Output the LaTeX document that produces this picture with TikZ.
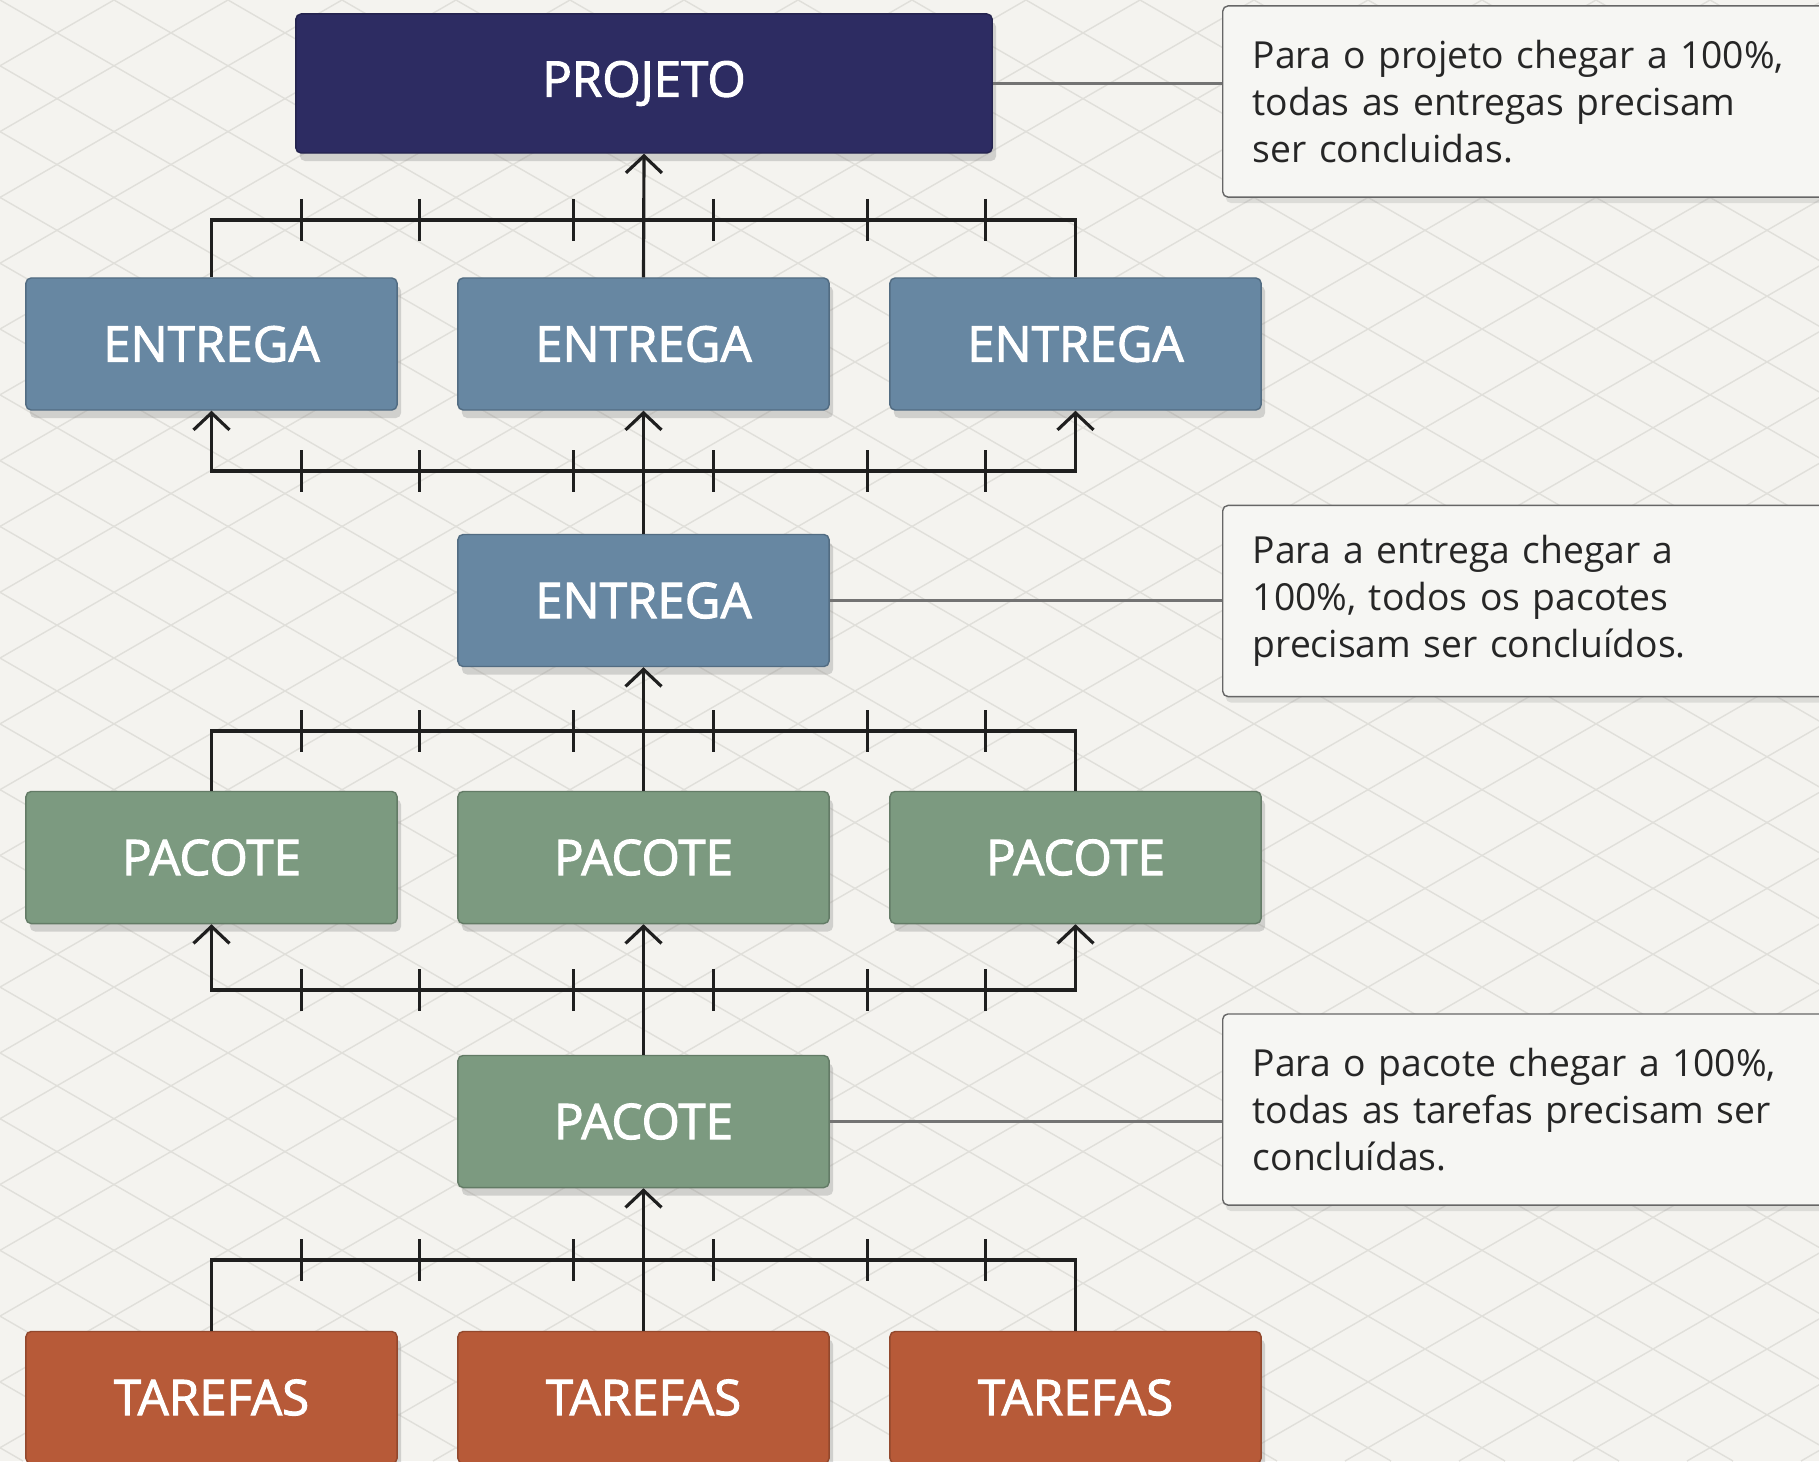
\documentclass[tikz,border=0pt]{standalone}
\usepackage{fontspec}
\setmainfont{Open Sans}
\newfontface\boxfont{Open Sans}[FakeBold=2]
\usetikzlibrary{arrows.meta,positioning,shadows}
\definecolor{paper}{HTML}{F4F3EF}
\definecolor{gridcol}{HTML}{E0DFDA}
\definecolor{projcol}{HTML}{2D2C62}
\definecolor{entcol}{HTML}{6787A2}
\definecolor{pacol}{HTML}{7C9A80}
\definecolor{tarcol}{HTML}{B75A38}
\definecolor{notecol}{HTML}{F6F6F3}
\tikzset{
  box/.style={rectangle,rounded corners=1.5pt,draw=#1!80!black,fill=#1,text=white,
    minimum width=3.71cm,minimum height=1.32cm,font=\boxfont\fontsize{14}{16}\selectfont,
    drop shadow={opacity=0.3,shadow xshift=0.04cm,shadow yshift=-0.08cm}},
  note/.style={rectangle,rounded corners=1.5pt,draw=black!60,fill=notecol,align=left,
    text width=6.2cm,inner xsep=0.3cm,minimum height=1.91cm,
    font=\fontsize{10.6}{13.4}\selectfont,text=black!85,
    drop shadow={opacity=0.2,shadow xshift=0.03cm,shadow yshift=-0.06cm}},
  bus/.style={line width=0.9pt,black!88},
  link/.style={line width=0.6pt,black!55},
  gridline/.style={gridcol,line width=0.4pt}
}
\begin{document}
\begin{tikzpicture}[x=0.01cm,y=-0.01cm,>={Straight Barb[length=1.7mm,width=3.6mm]}]
\useasboundingbox (0,0) rectangle (1819,1461);
\clip (0,0) rectangle (1819,1461);
\fill[paper] (0,0) rectangle (1819,1461);
% background grid
\foreach \k in {-24,...,16} \draw[gridline] (\k*114,0) -- ++(2531,1461);
\foreach \k in {0,...,39} \draw[gridline] (\k*114,0) -- ++(-2531,1461);

\node[box=projcol,minimum width=6.96cm,minimum height=1.39cm] (proj) at (644,83.5) {PROJETO};
\node[box=entcol] (E1) at (211.5,344) {ENTREGA};
\node[box=entcol] (E2) at (643.5,344) {ENTREGA};
\node[box=entcol] (E3) at (1075.5,344) {ENTREGA};
\node[box=entcol] (E) at (643.5,600.5) {ENTREGA};
\node[box=pacol] (P1) at (211.5,857.5) {PACOTE};
\node[box=pacol] (P2) at (643.5,857.5) {PACOTE};
\node[box=pacol] (P3) at (1075.5,857.5) {PACOTE};
\node[box=pacol] (P) at (643.5,1121.5) {PACOTE};
\node[box=tarcol] (T1) at (211.5,1397.5) {TAREFAS};
\node[box=tarcol] (T2) at (643.5,1397.5) {TAREFAS};
\node[box=tarcol] (T3) at (1075.5,1397.5) {TAREFAS};

\node[note,anchor=west] (N1) at (1222,101.5) {Para o projeto chegar a 100\%,\\todas as entregas precisam\\ser concluidas.};
\node[note,anchor=west] (N2) at (1222,601) {Para a entrega chegar a\\100\%, todos os pacotes\\precisam ser concluídos.};
\node[note,anchor=west] (N3) at (1222,1109.5) {Para o pacote chegar a 100\%,\\todas as tarefas precisam ser\\concluídas.};

% buses
\coordinate (B1) at (643.5,220);
\coordinate (B2) at (643.5,471);
\coordinate (B3) at (643.5,731);
\coordinate (B4) at (643.5,990);
\coordinate (B5) at (643.5,1260);

\draw[bus] (E1.north) |- (B1) -| (E3.north);
\draw[bus,->] (E2.north) -- (proj.south);
\draw[bus,<->] (E1.south) |- (B2) -| (E3.south);
\draw[bus,->] (E.north) -- (E2.south);
\draw[bus] (P1.north) |- (B3) -| (P3.north);
\draw[bus,->] (P2.north) -- (E.south);
\draw[bus,<->] (P1.south) |- (B4) -| (P3.south);
\draw[bus,->] (P.north) -- (P2.south);
\draw[bus] (T1.north) |- (B5) -| (T3.north);
\draw[bus,->] (T2.north) -- (P.south);

\foreach \b in {B1,B2,B3,B4,B5}
  \foreach \dx in {-342,-224,-70,70,224,342}
    \draw[bus] ([shift={(\dx,-21)}]\b) -- ++(0,42);

% links to notes
\draw[link] (proj.east) -- (proj.east -| N1.west);
\draw[link] (E.east) -- (E.east -| N2.west);
\draw[link] (P.east) -- (P.east -| N3.west);
\end{tikzpicture}
\end{document}
